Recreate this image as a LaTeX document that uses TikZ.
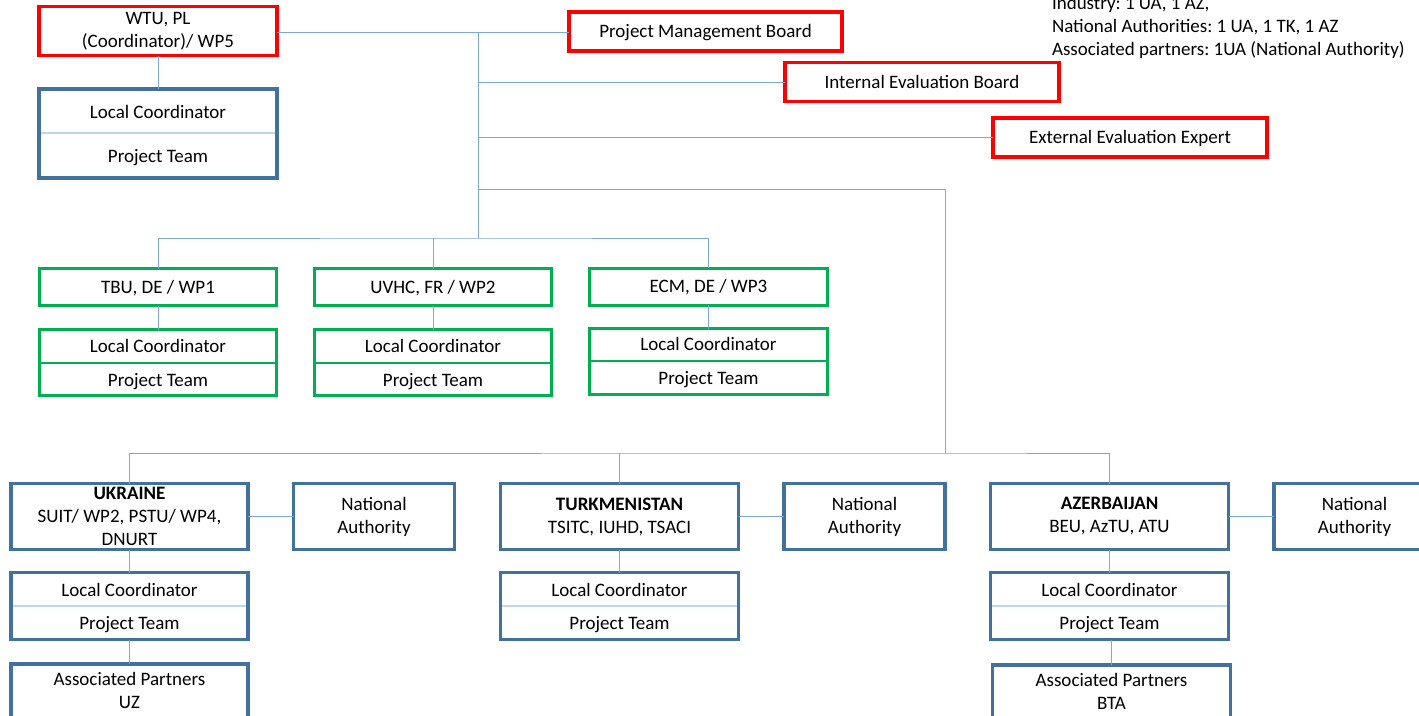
\documentclass[tikz,border=0pt]{standalone}
\usepackage{fontspec}
\setmainfont{Carlito}
\frenchspacing
\definecolor{cred}{RGB}{255,0,0}
\definecolor{cblue}{RGB}{65,113,156}
\definecolor{cgreen}{RGB}{0,176,80}
\definecolor{cline}{RGB}{125,168,218}
\definecolor{cdiv}{RGB}{189,215,238}
\newcommand{\mfnt}{\fontsize{19}{23}\selectfont}
\tikzset{
  base/.style={inner sep=0pt, outer sep=0pt, align=center, font=\mfnt},
  one/.style={text height=16pt, text depth=4pt},
  redbox/.style={base, draw=cred, line width=3.6pt},
  bluebox/.style={base, draw=cblue, line width=3.2pt},
  greenbox/.style={base, draw=cgreen, line width=3pt},
  txt/.style={base, one},
  conn/.style={draw=cline, line width=1pt},
  bdiv/.style={draw=cdiv, line width=1.2pt},
  gdiv/.style={draw=cgreen, line width=2.6pt},
}
\begin{document}
\begin{tikzpicture}[x=1pt,y=-1pt]
\useasboundingbox (0,0) rectangle (1419,715);
\fill[white] (0,0) rectangle (1419,715);

% ---- top info text
\node[base, align=left, anchor=south west] (info) at (1052,58.5)
  {Industry: 1 UA, 1 AZ,\\National Authorities: 1 UA, 1 TK, 1 AZ\\Associated partners: 1UA (National Authority)};

% ---- top red boxes
\node[redbox, minimum width=238, minimum height=49] (wtu) at (158,31) {WTU, PL\\(Coordinator)/ WP5};
\node[redbox, one, minimum width=273, minimum height=39] (pmb) at (705.5,31.5) {Project Management Board};
\node[redbox, one, minimum width=274, minimum height=39] (ieb) at (922,82) {Internal Evaluation Board};
\node[redbox, one, minimum width=274, minimum height=39] (eee) at (1130,137.5) {External Evaluation Expert};

% ---- top-left LC/PT
\draw[bdiv] (39,133) -- (277,133);
\node[bluebox, minimum width=238, minimum height=89] (lc0) at (158,133.5) {};
\node[txt] (lc0a) at (158,112) {Local Coordinator};
\node[txt] (lc0b) at (158,156) {Project Team};

% ---- green WP boxes
\node[greenbox, one, minimum width=237, minimum height=37] (tbu) at (158,287) {TBU, DE / WP1};
\node[greenbox, one, minimum width=237, minimum height=37] (uvhc) at (433,287) {UVHC, FR / WP2};
\node[greenbox, one, minimum width=238, minimum height=37] (ecm) at (708.5,286.5) {ECM, DE / WP3};

\draw[gdiv] (39,363) -- (277,363);
\draw[gdiv] (314,363) -- (552,363);
\draw[gdiv] (589,361) -- (828,361);
\node[greenbox, minimum width=237, minimum height=66] (lc1) at (158,362.5) {};
\node[txt] (lc1a) at (158,346) {Local Coordinator};
\node[txt] (lc1b) at (158,380) {Project Team};
\node[greenbox, minimum width=237, minimum height=66] (lc2) at (433,362.5) {};
\node[txt] (lc2a) at (433,346) {Local Coordinator};
\node[txt] (lc2b) at (433,380) {Project Team};
\node[greenbox, minimum width=238, minimum height=66] (lc3) at (708.5,361.5) {};
\node[txt] (lc3a) at (708.5,344) {Local Coordinator};
\node[txt] (lc3b) at (708.5,378) {Project Team};

% ---- country boxes
\node[bluebox, minimum width=237, minimum height=66] (ua) at (129.5,516.5) {\textbf{UKRAINE}\\SUIT/ WP2, PSTU/ WP4,\\DNURT};
\node[bluebox, minimum width=161, minimum height=66] (na1) at (374,516.5) {National\\Authority};
\node[bluebox, minimum width=238, minimum height=66] (tm) at (619.5,516.5) {\textbf{TURKMENISTAN}\\TSITC, IUHD, TSACI};
\node[bluebox, minimum width=161, minimum height=66] (na2) at (864.5,516.5) {National\\Authority};
\node[bluebox, minimum width=238, minimum height=66] (az) at (1109.5,516.5) {\textbf{AZERBAIJAN}\\BEU, AzTU, ATU};
\node[bluebox, minimum width=161, minimum height=66] (na3) at (1354.5,516.5) {National\\Authority};

\draw[bdiv] (11,606) -- (248,606);
\draw[bdiv] (500,606) -- (739,606);
\draw[bdiv] (990,606) -- (1229,606);
\node[bluebox, minimum width=237, minimum height=67] (lc4) at (129.5,606) {};
\node[txt] (lc4a) at (129.5,590) {Local Coordinator};
\node[txt] (lc4b) at (129.5,623) {Project Team};
\node[bluebox, minimum width=238, minimum height=67] (lc5) at (619.5,606) {};
\node[txt] (lc5a) at (619.5,590) {Local Coordinator};
\node[txt] (lc5b) at (619.5,623) {Project Team};
\node[bluebox, minimum width=238, minimum height=67] (lc6) at (1109.5,606) {};
\node[txt] (lc6a) at (1109.5,590) {Local Coordinator};
\node[txt] (lc6b) at (1109.5,623) {Project Team};

\node[bluebox, minimum width=237, minimum height=60] (ap1) at (129.5,694) {};
\node[base] (ap1t) at (129.5,690) {Associated Partners\\UZ};
\node[bluebox, minimum width=238, minimum height=60] (ap2) at (1111.5,695) {};
\node[base] (ap2t) at (1111.5,691.5) {Associated Partners\\BTA};

% ---- connectors
\coordinate (t0) at (478,32);
\coordinate (t1) at (478,238);
\coordinate (t2) at (478,189);
\coordinate (b0) at (945,453);
\draw[conn] (wtu.east |- t0) -- (pmb.west |- t0);
\draw[conn] (t0) -- (t1);
\draw[conn] (t0 |- ieb.west) -- (ieb.west);
\draw[conn] (t0 |- eee.west) -- (eee.west);
\draw[conn] (t2) -| (b0);
\draw[conn] (wtu.south) -- (lc0.north);
\draw[conn] (tbu.north) |- (t1) -| (ecm.north);
\draw[conn] (t1 -| uvhc.north) -- (uvhc.north);
\draw[conn] (tbu.south) -- (lc1.north);
\draw[conn] (uvhc.south) -- (lc2.north);
\draw[conn] (ecm.south) -- (lc3.north);
\draw[conn] (ua.north) |- (b0) -| (az.north);
\draw[conn] (b0 -| tm.north) -- (tm.north);
\draw[conn] (ua.east) -- (na1.west);
\draw[conn] (tm.east) -- (na2.west);
\draw[conn] (az.east) -- (na3.west);
\draw[conn] (ua.south) -- (lc4.north);
\draw[conn] (tm.south) -- (lc5.north);
\draw[conn] (az.south) -- (lc6.north);
\draw[conn] (lc4.south) -- (ap1.north);
\draw[conn] (lc6.south -| ap2.north) -- (ap2.north);
\end{tikzpicture}
\end{document}
